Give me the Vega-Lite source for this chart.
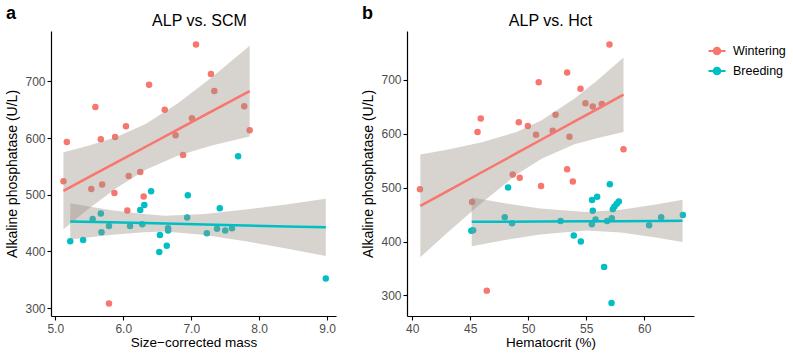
{
  "$schema": "https://vega.github.io/schema/vega-lite/v6.json",
  "background": "white",
  "padding": {"left": 5, "top": 5, "right": 5, "bottom": 3},
  "spacing": 25,
  "config": {
    "font": "Liberation Sans",
    "view": {"stroke": null},
    "axis": {"domainColor": "black", "domainWidth": 1.2, "tickColor": "black", "tickSize": 4, "tickWidth": 1.1, "labelFontSize": 12, "labelColor": "#4d4d4d", "titleFontSize": 14, "titleFontWeight": "normal", "titleColor": "black", "grid": false, "labelPadding": 2, "titlePadding": 5},
    "axisX": {"labelPadding": 3, "titlePadding": 1, "titleFontSize": 13.5},
    "title": {"fontSize": 16, "fontWeight": "normal", "color": "black"},
    "legend": {"labelFontSize": 12.5, "labelColor": "black"}
  },
  "datasets": {
    "a_pts": [
      {"x": 5.17, "y": 593, "season": "Wintering"}, {"x": 5.59, "y": 655, "season": "Wintering"}, {"x": 5.67, "y": 598, "season": "Wintering"}, {"x": 5.88, "y": 602, "season": "Wintering"},
      {"x": 6.04, "y": 621, "season": "Wintering"}, {"x": 6.38, "y": 694, "season": "Wintering"}, {"x": 6.61, "y": 650, "season": "Wintering"}, {"x": 6.77, "y": 605, "season": "Wintering"},
      {"x": 7.01, "y": 635, "season": "Wintering"}, {"x": 6.88, "y": 570, "season": "Wintering"}, {"x": 7.07, "y": 765, "season": "Wintering"}, {"x": 6.25, "y": 540, "season": "Wintering"},
      {"x": 6.08, "y": 533, "season": "Wintering"}, {"x": 7.29, "y": 713, "season": "Wintering"}, {"x": 7.34, "y": 683, "season": "Wintering"}, {"x": 7.78, "y": 656, "season": "Wintering"},
      {"x": 7.86, "y": 614, "season": "Wintering"}, {"x": 5.12, "y": 524, "season": "Wintering"}, {"x": 5.53, "y": 510, "season": "Wintering"}, {"x": 5.69, "y": 518, "season": "Wintering"},
      {"x": 5.87, "y": 503, "season": "Wintering"}, {"x": 6.30, "y": 497, "season": "Wintering"}, {"x": 6.06, "y": 472, "season": "Wintering"}, {"x": 5.79, "y": 308, "season": "Wintering"},
      {"x": 5.22, "y": 418, "season": "Breeding"}, {"x": 5.41, "y": 420, "season": "Breeding"}, {"x": 5.55, "y": 457, "season": "Breeding"}, {"x": 5.67, "y": 467, "season": "Breeding"},
      {"x": 5.68, "y": 434, "season": "Breeding"}, {"x": 5.79, "y": 445, "season": "Breeding"}, {"x": 6.10, "y": 445, "season": "Breeding"}, {"x": 6.25, "y": 473, "season": "Breeding"},
      {"x": 6.31, "y": 482, "season": "Breeding"}, {"x": 6.41, "y": 506, "season": "Breeding"}, {"x": 6.28, "y": 448, "season": "Breeding"}, {"x": 6.54, "y": 429, "season": "Breeding"},
      {"x": 6.53, "y": 399, "season": "Breeding"}, {"x": 6.64, "y": 410, "season": "Breeding"}, {"x": 6.66, "y": 441, "season": "Breeding"}, {"x": 6.66, "y": 437, "season": "Breeding"},
      {"x": 6.95, "y": 499, "season": "Breeding"}, {"x": 6.94, "y": 460, "season": "Breeding"}, {"x": 7.42, "y": 476, "season": "Breeding"}, {"x": 7.23, "y": 432, "season": "Breeding"},
      {"x": 7.38, "y": 440, "season": "Breeding"}, {"x": 7.50, "y": 437, "season": "Breeding"}, {"x": 7.60, "y": 441, "season": "Breeding"}, {"x": 8.98, "y": 352, "season": "Breeding"},
      {"x": 7.69, "y": 568, "season": "Breeding"}
    ],
    "a_band": [
      {"x": 5.12, "lo": 439, "hi": 575, "fit": 507, "season": "Wintering"},
      {"x": 5.5, "lo": 476, "hi": 587, "fit": 531.4, "season": "Wintering"},
      {"x": 5.9, "lo": 512, "hi": 602, "fit": 557.1, "season": "Wintering"},
      {"x": 6.33, "lo": 544, "hi": 625, "fit": 584.7, "season": "Wintering"},
      {"x": 6.8, "lo": 569, "hi": 661, "fit": 614.9, "season": "Wintering"},
      {"x": 7.3, "lo": 587, "hi": 707, "fit": 647, "season": "Wintering"},
      {"x": 7.86, "lo": 603, "hi": 763, "fit": 682.9, "season": "Wintering"},
      {"x": 5.22, "lo": 421, "hi": 485, "fit": 453, "season": "Breeding"},
      {"x": 5.8, "lo": 429, "hi": 473, "fit": 451.4, "season": "Breeding"},
      {"x": 6.3, "lo": 434, "hi": 466, "fit": 450, "season": "Breeding"},
      {"x": 6.62, "lo": 435, "hi": 463, "fit": 449.1, "season": "Breeding"},
      {"x": 7.2, "lo": 429, "hi": 466, "fit": 447.5, "season": "Breeding"},
      {"x": 7.8, "lo": 418, "hi": 474, "fit": 445.8, "season": "Breeding"},
      {"x": 8.4, "lo": 405, "hi": 483, "fit": 444.1, "season": "Breeding"},
      {"x": 8.98, "lo": 392, "hi": 493, "fit": 442.5, "season": "Breeding"}
    ],
    "b_pts": [
      {"x": 50.91, "y": 695, "season": "Wintering"}, {"x": 45.91, "y": 628, "season": "Wintering"}, {"x": 45.63, "y": 603, "season": "Wintering"}, {"x": 49.19, "y": 621, "season": "Wintering"},
      {"x": 49.97, "y": 614, "season": "Wintering"}, {"x": 50.68, "y": 598, "season": "Wintering"}, {"x": 52.12, "y": 605, "season": "Wintering"}, {"x": 57.01, "y": 765, "season": "Wintering"},
      {"x": 53.36, "y": 713, "season": "Wintering"}, {"x": 54.51, "y": 683, "season": "Wintering"}, {"x": 54.94, "y": 656, "season": "Wintering"}, {"x": 55.57, "y": 650, "season": "Wintering"},
      {"x": 56.35, "y": 655, "season": "Wintering"}, {"x": 52.36, "y": 635, "season": "Wintering"}, {"x": 53.56, "y": 594, "season": "Wintering"}, {"x": 58.22, "y": 571, "season": "Wintering"},
      {"x": 53.36, "y": 534, "season": "Wintering"}, {"x": 40.67, "y": 497, "season": "Wintering"}, {"x": 48.67, "y": 524, "season": "Wintering"}, {"x": 49.27, "y": 518, "season": "Wintering"},
      {"x": 51.11, "y": 503, "season": "Wintering"}, {"x": 45.16, "y": 473, "season": "Wintering"}, {"x": 46.43, "y": 309, "season": "Wintering"}, {"x": 53.85, "y": 511, "season": "Wintering"},
      {"x": 48.27, "y": 500, "season": "Breeding"}, {"x": 47.98, "y": 445, "season": "Breeding"}, {"x": 48.61, "y": 434, "season": "Breeding"}, {"x": 45.10, "y": 420, "season": "Breeding"},
      {"x": 45.25, "y": 421, "season": "Breeding"}, {"x": 57.04, "y": 506, "season": "Breeding"}, {"x": 55.51, "y": 477, "season": "Breeding"}, {"x": 55.95, "y": 483, "season": "Breeding"},
      {"x": 55.57, "y": 457, "season": "Breeding"}, {"x": 57.82, "y": 474, "season": "Breeding"}, {"x": 57.64, "y": 470, "season": "Breeding"}, {"x": 57.44, "y": 465, "season": "Breeding"},
      {"x": 57.30, "y": 460, "season": "Breeding"}, {"x": 52.79, "y": 438, "season": "Breeding"}, {"x": 55.49, "y": 432, "season": "Breeding"}, {"x": 55.81, "y": 441, "season": "Breeding"},
      {"x": 56.81, "y": 438, "season": "Breeding"}, {"x": 57.21, "y": 443, "season": "Breeding"}, {"x": 60.43, "y": 430, "season": "Breeding"}, {"x": 61.47, "y": 445, "season": "Breeding"},
      {"x": 63.34, "y": 449, "season": "Breeding"}, {"x": 53.93, "y": 411, "season": "Breeding"}, {"x": 54.54, "y": 400, "season": "Breeding"}, {"x": 56.55, "y": 353, "season": "Breeding"},
      {"x": 57.19, "y": 286, "season": "Breeding"}
    ],
    "b_band": [
      {"x": 40.7, "lo": 371, "hi": 561, "fit": 466, "season": "Wintering"},
      {"x": 43, "lo": 416, "hi": 570, "fit": 493, "season": "Wintering"},
      {"x": 46, "lo": 472, "hi": 584, "fit": 528.3, "season": "Wintering"},
      {"x": 49, "lo": 524, "hi": 603, "fit": 563.6, "season": "Wintering"},
      {"x": 51.2, "lo": 554, "hi": 625, "fit": 589.5, "season": "Wintering"},
      {"x": 54, "lo": 580, "hi": 665, "fit": 622.4, "season": "Wintering"},
      {"x": 56, "lo": 592, "hi": 699, "fit": 645.9, "season": "Wintering"},
      {"x": 58.22, "lo": 603, "hi": 741, "fit": 672, "season": "Wintering"},
      {"x": 45.13, "lo": 391.4, "hi": 481.4, "fit": 436.4, "season": "Breeding"},
      {"x": 48, "lo": 402.6, "hi": 470.8, "fit": 436.7, "season": "Breeding"},
      {"x": 51, "lo": 413, "hi": 461, "fit": 437, "season": "Breeding"},
      {"x": 55, "lo": 420.3, "hi": 454.5, "fit": 437.4, "season": "Breeding"},
      {"x": 58, "lo": 416.5, "hi": 458.9, "fit": 437.7, "season": "Breeding"},
      {"x": 61, "lo": 407.5, "hi": 468.5, "fit": 438, "season": "Breeding"},
      {"x": 63.31, "lo": 399.3, "hi": 477.3, "fit": 438.3, "season": "Breeding"}
    ]
  },
  "hconcat": [
    {
      "title": {"text": "a", "anchor": "start", "fontSize": 18, "fontWeight": "bold", "offset": -10},
      "vconcat": [
        {
          "width": 285,
          "height": 285,
          "title": {"text": "ALP vs. SCM", "anchor": "middle", "frame": "group", "dx": 6, "offset": 2},
          "layer": [
            {
              "data": {"name": "a_pts"},
              "mark": {"type": "circle", "size": 42, "opacity": 1},
              "encoding": {
                "x": {"field": "x", "type": "quantitative", "scale": {"domain": [4.937, 9.13], "nice": false, "zero": false}, "axis": {"values": [5, 6, 7, 8, 9], "title": "Size−corrected mass"}},
                "y": {"field": "y", "type": "quantitative", "scale": {"domain": [286, 789], "nice": false, "zero": false}, "axis": {"values": [300, 400, 500, 600, 700], "title": "Alkaline phosphatase (U/L)"}},
                "color": {"field": "season", "type": "nominal", "scale": {"domain": ["Wintering", "Breeding"], "range": ["#F8766D", "#00BFC4"]}, "legend": {"title": null, "symbolType": "M-1,0L1,0M-0.38,0A0.38,0.38,0,1,1,0.38,0A0.38,0.38,0,1,1,-0.38,0Z", "symbolSize": 289, "symbolStrokeWidth": 2.2, "offset": 3, "padding": 10, "rowPadding": 2, "labelOffset": 6, "encode": {"symbols": {"update": {"stroke": {"scale": "color", "field": "value"}, "fill": {"scale": "color", "field": "value"}}}}}}
              }
            },
            {
              "data": {"name": "a_band"},
              "mark": {"type": "area", "color": "#9a9188", "opacity": 0.4},
              "encoding": {
                "x": {"field": "x", "type": "quantitative"},
                "y": {"field": "lo", "type": "quantitative"},
                "y2": {"field": "hi"},
                "detail": {"field": "season"}
              }
            },
            {
              "data": {"name": "a_band"},
              "mark": {"type": "line", "strokeWidth": 2.5},
              "encoding": {
                "x": {"field": "x", "type": "quantitative"},
                "y": {"field": "fit", "type": "quantitative"},
                "color": {"field": "season", "type": "nominal", "legend": {"title": null, "symbolType": "M-1,0L1,0M-0.38,0A0.38,0.38,0,1,1,0.38,0A0.38,0.38,0,1,1,-0.38,0Z", "symbolSize": 289, "symbolStrokeWidth": 2.2, "offset": 3, "padding": 10, "rowPadding": 2, "labelOffset": 6, "encode": {"symbols": {"update": {"stroke": {"scale": "color", "field": "value"}, "fill": {"scale": "color", "field": "value"}}}}}}
              }
            }
          ]
        }
      ]
    },
    {
      "title": {"text": "b", "anchor": "start", "fontSize": 18, "fontWeight": "bold", "offset": -10},
      "vconcat": [
        {
          "width": 287,
          "height": 285,
          "title": {"text": "ALP vs. Hct", "anchor": "middle", "frame": "group", "offset": 2},
          "layer": [
            {
              "data": {"name": "b_pts"},
              "mark": {"type": "circle", "size": 42, "opacity": 1},
              "encoding": {
                "x": {"field": "x", "type": "quantitative", "scale": {"domain": [39.55, 64.3], "nice": false, "zero": false}, "axis": {"values": [40, 45, 50, 55, 60], "title": "Hematocrit (%)"}},
                "y": {"field": "y", "type": "quantitative", "scale": {"domain": [262, 790], "nice": false, "zero": false}, "axis": {"values": [300, 400, 500, 600, 700], "title": "Alkaline phosphatase (U/L)"}},
                "color": {"field": "season", "type": "nominal", "legend": {"title": null, "symbolType": "M-1,0L1,0M-0.38,0A0.38,0.38,0,1,1,0.38,0A0.38,0.38,0,1,1,-0.38,0Z", "symbolSize": 289, "symbolStrokeWidth": 2.2, "offset": 3, "padding": 10, "rowPadding": 2, "labelOffset": 6, "encode": {"symbols": {"update": {"stroke": {"scale": "color", "field": "value"}, "fill": {"scale": "color", "field": "value"}}}}}}
              }
            },
            {
              "data": {"name": "b_band"},
              "mark": {"type": "area", "color": "#9a9188", "opacity": 0.4},
              "encoding": {
                "x": {"field": "x", "type": "quantitative"},
                "y": {"field": "lo", "type": "quantitative"},
                "y2": {"field": "hi"},
                "detail": {"field": "season"}
              }
            },
            {
              "data": {"name": "b_band"},
              "mark": {"type": "line", "strokeWidth": 2.5},
              "encoding": {
                "x": {"field": "x", "type": "quantitative"},
                "y": {"field": "fit", "type": "quantitative"},
                "color": {"field": "season", "type": "nominal", "legend": {"title": null, "symbolType": "M-1,0L1,0M-0.38,0A0.38,0.38,0,1,1,0.38,0A0.38,0.38,0,1,1,-0.38,0Z", "symbolSize": 289, "symbolStrokeWidth": 2.2, "offset": 3, "padding": 10, "rowPadding": 2, "labelOffset": 6, "encode": {"symbols": {"update": {"stroke": {"scale": "color", "field": "value"}, "fill": {"scale": "color", "field": "value"}}}}}}
              }
            }
          ]
        }
      ]
    }
  ]
}
